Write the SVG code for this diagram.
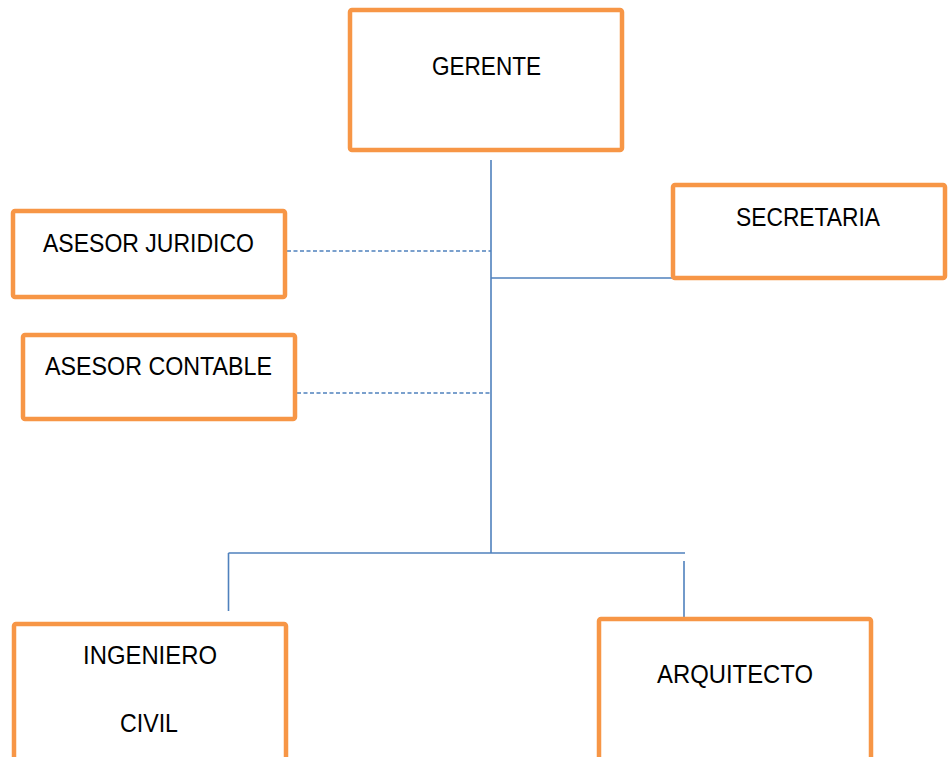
<svg xmlns="http://www.w3.org/2000/svg" width="948" height="757" viewBox="0 0 948 757">
<style>
.box{fill:#ffffff;stroke:#F79646;stroke-width:4.5;stroke-linejoin:round}
.lbl{font-family:"Liberation Sans",Arial,sans-serif;font-size:25px;fill:#000000}
.ln{stroke:#4F81BD;stroke-width:1.6;fill:none}
.dash{stroke-dasharray:4 2.5}
</style>
<rect width="948" height="757" fill="#ffffff"/>
<g id="connectors">
<line class="ln" x1="491" y1="160" x2="491" y2="553"/>
<line class="ln" x1="491" y1="278" x2="672" y2="278"/>
<line class="ln dash" x1="287" y1="251" x2="491" y2="251"/>
<line class="ln dash" x1="284" y1="393" x2="491" y2="393"/>
<line class="ln" x1="228.5" y1="553" x2="685" y2="553"/>
<line class="ln" x1="228.5" y1="553" x2="228.5" y2="611"/>
<line class="ln" x1="684" y1="561" x2="684" y2="619"/>
</g>
<g id="gerente">
<rect class="box" x="350" y="10" width="272" height="140" rx="2"/>
<text class="lbl" x="432" y="75" textLength="109" lengthAdjust="spacingAndGlyphs">GERENTE</text>
</g>
<g id="asesor-juridico">
<rect class="box" x="13" y="211" width="272" height="86" rx="2"/>
<text class="lbl" x="43" y="252" textLength="211" lengthAdjust="spacingAndGlyphs">ASESOR JURIDICO</text>
</g>
<g id="asesor-contable">
<rect class="box" x="23" y="335" width="272" height="84" rx="2"/>
<text class="lbl" x="45" y="375" textLength="227" lengthAdjust="spacingAndGlyphs">ASESOR CONTABLE</text>
</g>
<g id="secretaria">
<rect class="box" x="673" y="185" width="272" height="93" rx="2"/>
<text class="lbl" x="736" y="226" textLength="144" lengthAdjust="spacingAndGlyphs">SECRETARIA</text>
</g>
<g id="ingeniero-civil">
<rect class="box" x="14" y="624" width="272" height="200" rx="2"/>
<text class="lbl" x="83" y="664" textLength="134" lengthAdjust="spacingAndGlyphs">INGENIERO</text>
<text class="lbl" x="120" y="732" textLength="58" lengthAdjust="spacingAndGlyphs">CIVIL</text>
</g>
<g id="arquitecto">
<rect class="box" x="599" y="619" width="272" height="200" rx="2"/>
<text class="lbl" x="657" y="683" textLength="156" lengthAdjust="spacingAndGlyphs">ARQUITECTO</text>
</g>
</svg>
